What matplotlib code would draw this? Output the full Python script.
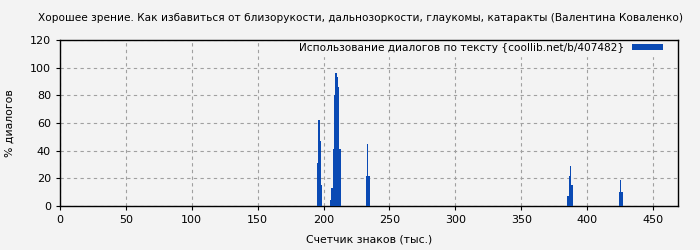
import matplotlib
matplotlib.use("Agg")
import matplotlib.pyplot as plt

title = "Хорошее зрение. Как избавиться от близорукости, дальнозоркости, глаукомы, катаракты (Валентина Коваленко)"
legend_label = "Использование диалогов по тексту {coollib.net/b/407482}"
xlabel = "Счетчик знаков (тыс.)"
ylabel = "% диалогов"

positions = [195, 196, 197, 198,
             205, 206, 207, 208, 209, 210, 211, 212,
             232, 233, 234,
             385, 386, 387, 388,
             424, 425, 426]
values = [31, 62, 47, 15,
          4, 13, 41, 80, 96, 93, 86, 41,
          22, 45, 22,
          7, 22, 29, 15,
          10, 19, 10]

xticks = [0, 50, 100, 150, 200, 250, 300, 350, 400, 450]
yticks = [0, 20, 40, 60, 80, 100, 120]

bg = "#f3f3f3"
bar_color = "#0a4ab4"

fig = plt.figure(figsize=(7, 2.5), dpi=100, facecolor=bg)
ax = fig.add_axes([60/700, 1-206/250, (678-60)/700, (206-40)/250])
ax.set_facecolor(bg)

ax.bar(positions, values, width=1.0, color=bar_color, align="edge", label=legend_label, zorder=3)

ax.set_xlim(0, 469)
ax.set_ylim(0, 120)
ax.set_xticks(xticks)
ax.set_yticks(yticks)
ax.tick_params(labelsize=8, length=3, color="black")
ax.grid(True, color="#a0a0a0", linestyle=(0, (3, 3)), linewidth=0.8, zorder=0)
for s in ax.spines.values():
    s.set_color("black")
    s.set_linewidth(1)

ax.set_xlabel(xlabel, fontsize=7.8, labelpad=7)
ax.set_ylabel(ylabel, fontsize=7.8, labelpad=11)
fig.text(361/700, 1-18/250, title, fontsize=7.6, ha="center", va="center")

leg = ax.legend(loc="upper right", fontsize=7.6, frameon=True, fancybox=False,
                borderaxespad=0.0, borderpad=0.3, handlelength=2.9, handleheight=0.5,
                handletextpad=0.8, markerfirst=False, bbox_to_anchor=(1 - 12/618, 1.0))
leg.get_frame().set_facecolor(bg)
leg.get_frame().set_edgecolor(bg)
leg.get_frame().set_alpha(1)
leg.set_zorder(2.4)

fig.savefig("out.png", dpi=100, facecolor=bg)
